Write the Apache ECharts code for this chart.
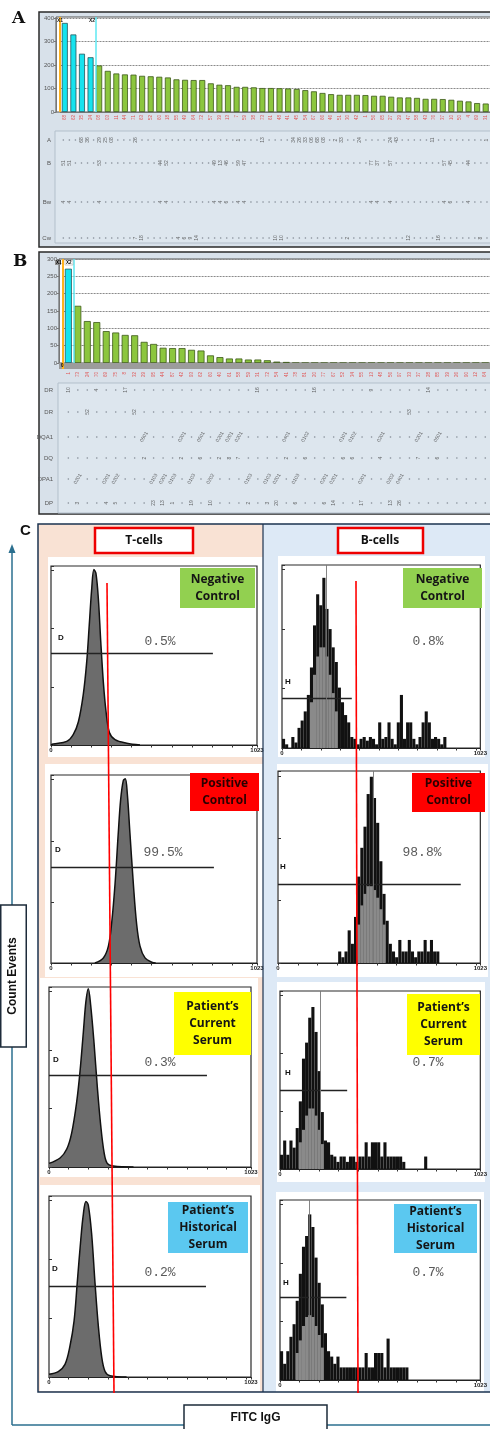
<!DOCTYPE html>
<html><head><meta charset="utf-8">
<script src="https://cdn.jsdelivr.net/npm/echarts@6/dist/echarts.min.js"></script>
<style>html,body{margin:0;padding:0;background:#fff}#c{width:490px;height:1429px}</style>
</head><body><div id="c"></div>
<script>
// ---------------- DATA ----------------
// Panel A: antibody-specificity bar chart (MFI-like values, sorted)
const aCategories = ['68','62','35','24','08','03','11','44','71','63','52','60','18','55','49','64','72','57','39','13','7','59','38','73','61','48','41','45','54','67','66','46','51','30','42','1','56','65','27','29','47','58','43','76','37','10','50','4','69','31'];
const aValues = [379,330,248,233,198,175,164,160,159,154,152,150,147,139,137,136,136,122,116,114,107,107,105,102,102,101,100,98,93,88,81,76,73,73,73,72,69,69,65,62,62,60,56,56,55,52,48,45,38,36];
const aCyanCount = 4;
const aTableRowNames = ['A','B','Bw','Cw'];
const aRowA = ['','','','68','36','','29','25','08','', '','','26','','','','','','','', '','','','','','','','','','1', '','','','13','','','','','34','26', '33','06','68','08','','2','33','','','24', '','','','','24','43','','','','', '','11','','','','','','','','', '1'];
const aRowB = ['51','51','','','','','53','','','', '','','','','','','44','52','','', '','','','','','49','13','46','','59', '47','','','','','','','','','', '','','','','','','','','','', '','77','37','','57','','','','','', '','','','57','45','','','44','','', ''];
const aRowBw = ['4','4','','','','','4','','','', '','','','','','','4','4','','', '','','','','','4','4','6','','4', '4','','','','','','','','','', '','','','','','','','','','', '','4','4','','4','','','','','', '','','','4','6','','','4','','', ''];
const aRowCw = ['','','','','','','','','','', '','','7','18','','','','','','4', '6','9','14','','','','','','','', '','','','','','10','10','','','', '','','','','','','','2','','', '','','','','','','','12','','', '','','16','','','','','','','8', ''];

// Panel B: class II specificities
const bCategories = ['1','73','24','70','69','75','8','32','29','95','44','87','42','93','62','60','40','61','58','59','31','72','54','41','78','81','20','77','67','52','34','55','13','48','56','97','33','37','28','85','39','26','90','12','64'];
const bValues = [272,165,121,118,92,88,81,80,61,55,44,43,43,38,36,22,17,13,13,10,10,8,4,3,0,0,0,0,0,0,0,0,0,0,0,0,0,0,0,0,0,0,0,0,0];
const bCyanCount = 1;
const bTableRowNames = ['DR','DR','DQA1','DQ','DPA1','DP'];
const bRowDR1 = ['10','','','4','','','17','','','', '','','','','','','','','','', '16','','','','','','16','','','', '','','9','','','','','','14','', '','','','',''];
const bRowDR2 = ['','','52','','','','','52','','', '','','','','','','','','','', '','','','','','','','','','', '','','','','','','53','','','', '','','','',''];
const bRowDQA1 = ['','','','','','','','','0501','', '','','0201','','0501','','0201','0201','0201','', '','','','0401','','0102','','','','0101', '0102','','','0201','','','','0201','','0501', '','','','',''];
const bRowDQ = ['','','','','','','','','2','', '','','2','','6','','2','8','7','', '','','','2','','6','','','','6', '6','','','4','','','','7','','6', '','','','',''];
const bRowDPA1 = ['','0201','','','0201','0202','','','','0103', '0201','0103','','0103','','0202','','','','0103', '','0103','0201','','0103','','','0201','0201','', '','0201','','','0202','0401','','','','', '','','','',''];
const bRowDP = ['','3','','','4','5','','','','23', '13','1','','19','','10','','','','2', '','3','20','','6','','','6','14','', '','17','','','13','26','','','','', '','','','',''];

// Panel C: flow cytometry histograms (channel 0-1023, height as % of plot)
const tNeg  = [[0,0],[11,0.5],[78,2],[111,6],[136,13],[160,28],[177,46],[190,67],[202,87],[213,98],[223,96],[235,82],[247,58],[260,35],[273,19],[290,7],[318,3],[376,1],[442,0]];
const tPos  = [[218,0],[260,2.7],[285,9],[301,21],[318,42],[334,69],[346,87],[359,97],[369,98],[379,90],[392,69],[409,42],[425,21],[442,9],[467,2.7],[500,0.4],[520,0]];
const tCur  = [[0,2],[56,5],[90,10],[115,19],[140,36],[157,53],[174,75],[187,92],[199,99],[211,90],[228,69],[245,44],[262,23],[279,8],[295,2],[326,0.5],[428,0]];
const tHist = [[0,1.5],[47,3],[81,7],[106,17],[127,31],[143,52],[161,76],[174,90],[187,97],[199,95],[216,79],[233,52],[250,28],[267,11],[284,3],[309,0.7],[393,0]];
// B-cell histograms, 64 bins of 16 channels
const bNeg  = [5,2,0,6,3,11,15,20,29,44,67,84,78,93,76,65,55,47,33,25,18,14,6,5,2,5,6,4,6,5,2,14,5,6,14,5,2,14,29,5,14,14,5,2,6,14,20,14,5,6,5,2,6,0,0,0,0,0,0,0,0,0,0,0];
const bPos  = [0,0,0,0,0,0,0,0,0,0,0,0,0,0,0,0,0,0,0,6,3,6,17,10,24,45,60,71,88,97,86,73,53,36,22,10,6,3,12,6,6,12,6,3,6,6,12,6,12,6,6,0,0,0,0,0,0,0,0,0,0,0,0,0];
const bCur  = [8,16,8,16,12,23,38,62,71,85,91,77,55,32,16,15,8,7,4,7,7,4,7,7,4,7,7,15,7,15,15,15,7,15,7,7,7,7,7,4,0,0,0,0,0,0,7,0,0,0,0,0,0,0,0,0,0,0,0,0,0,0,0,0];
const bHist = [16,9,16,24,31,44,59,74,80,92,85,68,54,42,26,16,13,9,13,7,7,7,7,7,7,7,7,15,7,7,15,15,15,7,23,7,7,7,7,7,7,0,0,0,0,0,0,0,0,0,0,0,0,0,0,0,0,0,0,0,0,0,0,0];
const bNegGray  = [[9,25],[10,40],[11,50],[12,55],[13,55],[14,50],[15,40],[16,30],[17,20]];
const bPosGray  = [[25,20],[26,30],[27,36],[28,40],[29,40],[30,38],[31,34],[32,28],[33,20]];
const bCurGray  = [[6,15],[7,22],[8,30],[9,34],[10,34],[11,30],[12,22],[13,14]];
const bHistGray = [[5,15],[6,22],[7,30],[8,35],[9,36],[10,35],[11,30],[12,25],[13,18]];
const binWidth = 16;

const conditionLabels = ['Negative\nControl','Positive\nControl','Patient\u2019s\nCurrent\nSerum','Patient\u2019s\nHistorical\nSerum'];
const tPercents = ['0.5%','99.5%','0.3%','0.2%'];
const bPercents = ['0.8%','98.8%','0.7%','0.7%'];
const gateLevels = [51,51,51,50,27,41,44,46];
const gateEnds = [804,809,800,795,360,924,343,339];
const bMarkers = [228,484,207,147];

// ---------------- LAYOUT ----------------
const g = [];
function R(x,y,w,h,fill,stroke,lw,z){
  const st = {fill: fill || 'none'};
  if (stroke) { st.stroke = stroke; st.lineWidth = lw || 1; }
  g.push({type:'rect', z:z, silent:true, shape:{x:x,y:y,width:w,height:h}, style:st});
}
function T(x,y,text,font,color,align,z,extra){
  g.push(Object.assign({type:'text', z:(z==null?10:z), silent:true, x:x, y:y,
    style:Object.assign({text:text, font:font, fill:color, align:align||'left', verticalAlign:'middle'}, (extra&&extra.style)||{})},
    extra&&extra.rotation!=null?{rotation:extra.rotation}:{}));
}
function L(x1,y1,x2,y2,color,w,z){
  g.push({type:'line', z:(z==null?10:z), silent:true, shape:{x1:x1,y1:y1,x2:x2,y2:y2}, style:{stroke:color, lineWidth:w}});
}

// Panel A frame
T(12,19,'A',"bold 17px 'DejaVu Serif'",'#111','left');
R(39,12,470,235,'#d8e1ea','#2a2a2a',1.5,-20);
R(56,17,450,95,'#ffffff','#555',1,-15);
R(55,131,450,112,'#dde6ee','#b3bfcb',1,-15);
L(60,17,60,112,'#ffb21e',2,8);
L(96,17,96,112,'#5ee8f2',1.5,8);
T(57,21,'X1',"bold 5px sans-serif",'#222','left');
T(89,21,'X2',"bold 5px sans-serif",'#222','left');
const aRowY = [9,32,71,107];
aTableRowNames.forEach((n,i)=>T(51,131+aRowY[i],n,"6px 'Liberation Sans'",'#555','right'));

// Panel B frame
T(13,262,'B',"bold 17px 'DejaVu Serif'",'#111','left');
R(39,252,470,262,'#d8e1ea','#2a2a2a',1.5,-20);
R(59,259,450,104,'#ffffff','#555',1,-15);
R(59,363,450,6,'#9c9c9c',null,0,6);
R(58,383,450,130,'#dde6ee','#b3bfcb',1,-15);
L(63,259,63,369,'#ffb21e',2,8);
L(74,259,74,363,'#5ee8f2',1.5,8);
R(55,260,6,5,'#8d8d8d',null,0,9); R(65,260,8,5,'#ffffff','#999',0.5,9);
T(56,262.5,'X1',"bold 4.5px sans-serif",'#000','left',10);
T(66,262.5,'X2',"bold 4.5px sans-serif",'#000','left',10);
T(61,366,'0',"bold 4.5px sans-serif",'#000','left',10);
const bRowY = [7,29,54,75,96,120];
bTableRowNames.forEach((n,i)=>T(53,383+bRowY[i],n,"6px 'Liberation Sans'",'#555','right'));

// Panel C frame
T(20,531,'C',"bold 15px 'Liberation Sans'",'#111','left');
R(38,524,225,868,'#f9e2d4',null,0,-20);
R(263,524,245,868,'#dde9f6',null,0,-20);
R(38,524,470,868,'none','#1b3350',1.5,5);
L(263,524,263,1392,'#1b3350',1.2,5);
R(95,528,98,25,'#ffffff','#ee0000',2.5,6);
T(144,541,'T-cells',"bold 12px 'Open Sans'",'#111','center',7);
R(338,528,85,25,'#ffffff','#ee0000',2.5,6);
T(380,541,'B-cells',"bold 12px 'Open Sans'",'#111','center',7);
// axis arrows
L(12,1425,12,552,'#2b6f8f',1.5,1);
g.push({type:'polygon', z:1, silent:true, shape:{points:[[12,544],[8.5,553],[15.5,553]]}, style:{fill:'#2b6f8f'}});
L(12,1425,500,1425,'#2b6f8f',1.5,1);
R(0.75,905,25.5,142,'#ffffff','#1d2b3a',1.5,6);
T(13,976,'Count Events',"bold 12px 'Liberation Sans'",'#111','center',7,{rotation:Math.PI/2});
R(184,1405,143,30,'#ffffff','#1d2b3a',1.5,6);
T(255.5,1418,'FITC IgG',"bold 12px 'Liberation Sans'",'#111','center',7);

const histLayout = [
  {bg:[48,557,215,200],  grid:[51,566,206,179],  box:[180,568,75,40,'#92d050'],  letter:[58,638],  pct:[160,642]},
  {bg:[45,764,218,213],  grid:[51,775,206,188],  box:[190,773,69,38,'#ff0000'],  letter:[55,850],  pct:[163,853]},
  {bg:[40,978,218,199],  grid:[49,987,202,180],  box:[174,992,77,63,'#ffff00'],  letter:[53,1060], pct:[160,1063]},
  {bg:[40,1185,220,206], grid:[49,1196,202,181], box:[168,1202,80,51,'#5bc8f0'], letter:[52,1269], pct:[160,1273]},
  {bg:[278,556,207,201], grid:[282,565,202,183], box:[403,568,79,40,'#92d050'],  letter:[285,682], pct:[428,642]},
  {bg:[277,764,211,213], grid:[278,771,207,192], box:[412,773,73,39,'#ff0000'],  letter:[280,867], pct:[422,853]},
  {bg:[277,982,208,200], grid:[280,991,203,178], box:[407,994,73,61,'#ffff00'],  letter:[285,1073],pct:[428,1063]},
  {bg:[276,1192,208,200],grid:[280,1200,202,180],box:[394,1204,83,49,'#5bc8f0'], letter:[283,1283],pct:[428,1273]}
];
const percents = tPercents.concat(bPercents);
histLayout.forEach((h,k)=>{
  R(h.bg[0],h.bg[1],h.bg[2],h.bg[3],'#ffffff',null,0,-10);
  const b = h.box;
  R(b[0],b[1],b[2],b[3],b[4],null,0,12);
  g.push({type:'text', z:13, silent:true, x:b[0]+b[2]/2, y:b[1]+b[3]/2,
    style:{text:conditionLabels[k%4], font:"bold 12px 'Open Sans'", fill:(k%4===1?'#2a0000':'#151515'), align:'center', verticalAlign:'middle', lineHeight:17}});
  T(h.letter[0],h.letter[1],k<4?'D':'H',"bold 8px 'Liberation Sans'",'#111','left',12);
  T(h.pct[0],h.pct[1],percents[k],"13px 'Liberation Mono'",'#5a5a5a','center',12);
});
// red reference lines
L(107,583,114,1393,'#ff0000',1.6,30);
L(356,581,358,1393,'#ff0000',1.6,30);

// ---------------- OPTION ----------------
const grids = [
  {left:60.5, top:18, width:445, height:94},
  {left:60.3, top:131, width:431, height:112},
  {left:63.6, top:259, width:481.5, height:104},
  {left:63.6, top:383, width:481.5, height:130}
];
histLayout.forEach(h=>grids.push({left:h.grid[0], top:h.grid[1], width:h.grid[2], height:h.grid[3], show:true, borderColor:'#2a2a2a', borderWidth:1.2, backgroundColor:'transparent'}));

const xAxes = [
  {gridIndex:0, type:'category', data:aCategories, axisLine:{lineStyle:{color:'#777'}}, axisTick:{alignWithLabel:true, length:2, lineStyle:{color:'#aaa'}},
   axisLabel:{rotate:90, fontSize:4.5, color:'#e05555', margin:3, interval:0}},
  {gridIndex:1, type:'category', data:aRowA.map((_,i)=>String(i)), show:false},
  {gridIndex:2, type:'category', data:bCategories, axisLine:{show:false}, axisTick:{show:false},
   axisLabel:{rotate:90, fontSize:4.5, color:'#e05555', margin:9, interval:0}},
  {gridIndex:3, type:'category', data:bCategories, show:false}
];
const yAxes = [
  {gridIndex:0, type:'value', min:0, max:400, interval:100, offset:4.5, axisLine:{show:true, lineStyle:{color:'#777'}}, axisTick:{show:true, length:2},
   axisLabel:{fontSize:6, color:'#555', margin:2}, splitLine:{lineStyle:{type:[2,1], color:'#8a8a8a'}}},
  {gridIndex:1, type:'value', min:0, max:112, inverse:true, show:false},
  {gridIndex:2, type:'value', min:0, max:300, interval:50, offset:4.6, axisLine:{show:true, lineStyle:{color:'#777'}}, axisTick:{show:true, length:2},
   axisLabel:{fontSize:6, color:'#555', margin:2}, splitLine:{lineStyle:{type:[2,1], color:'#8a8a8a'}}},
  {gridIndex:3, type:'value', min:0, max:130, inverse:true, show:false}
];
for (let k=0;k<8;k++){
  xAxes.push({gridIndex:4+k, type:'value', min:0, max:1023, interval:100,
    axisLine:{lineStyle:{color:'#222', width:1.2}}, axisTick:{length:2.5, lineStyle:{color:'#333'}},
    axisLabel:{fontSize:6, fontWeight:'bold', color:'#222', margin:2, showMaxLabel:true, showMinLabel:true,
      formatter:v=>v===0?'0':(v>=1023?'1023':'')}, splitLine:{show:false}});
  yAxes.push({gridIndex:4+k, type:'value', min:0, max:100, interval:32.5, axisLine:{show:false},
    axisTick:{show:true, inside:true, length:3, lineStyle:{color:'#333'}}, axisLabel:{show:false}, splitLine:{show:false}});
}

function barItems(vals, nCyan){
  return vals.map((v,i)=>({value:v, itemStyle:{color:i<nCyan?'#16e3ee':'#8cc63e', borderColor:i<nCyan?'#24555a':'#3e591a'}}));
}
function tableSeries(rows, idx, ys, rots){
  const dots=[], nums=[];
  rows.forEach((cells,r)=>cells.forEach((t,c)=>{
    if (t==='') dots.push([c, ys[r]]);
    else nums.push({name:t, value:[c, ys[r]], label:{rotate:rots[r]}});
  }));
  return [
    {type:'scatter', xAxisIndex:idx, yAxisIndex:idx, data:dots, symbolSize:1.6, itemStyle:{color:'#6d7480'}, silent:true},
    {type:'scatter', xAxisIndex:idx, yAxisIndex:idx, data:nums, symbolSize:1, itemStyle:{color:'rgba(0,0,0,0)'}, silent:true,
     label:{show:true, position:'inside', formatter:p=>p.name, fontSize:5, color:'#444'}}
  ];
}

const series = [
  {type:'bar', xAxisIndex:0, yAxisIndex:0, barWidth:6, data:barItems(aValues,aCyanCount), itemStyle:{borderWidth:0.8}, silent:true},
  ...tableSeries([aRowA,aRowB,aRowBw,aRowCw],1,aRowY,[90,90,90,90]),
  {type:'bar', xAxisIndex:2, yAxisIndex:2, barWidth:7, data:barItems(bValues,bCyanCount), itemStyle:{borderWidth:0.8}, silent:true},
  ...tableSeries([bRowDR1,bRowDR2,bRowDQA1,bRowDQ,bRowDPA1,bRowDP],3,bRowY,[90,90,60,90,60,90])
];

function gateMark(k){
  const data = [[{coord:[0,gateLevels[k]]},{coord:[gateEnds[k],gateLevels[k]]}]];
  if (k>=4) data.push({xAxis:bMarkers[k-4], lineStyle:{color:'#777', width:0.9}});
  return {silent:true, symbol:['none','none'], label:{show:false}, animation:false,
          lineStyle:{color:'#222', width:1.3, type:'solid'}, data:data};
}
[tNeg,tPos,tCur,tHist].forEach((d,k)=>{
  series.push({type:'line', xAxisIndex:4+k, yAxisIndex:4+k, data:d, smooth:0.35, symbol:'none',
    lineStyle:{color:'#111', width:1.5}, areaStyle:{color:'#6c6c6c', opacity:1}, markLine:gateMark(k), silent:true});
});
[[bNeg,bNegGray],[bPos,bPosGray],[bCur,bCurGray],[bHist,bHistGray]].forEach((pair,j)=>{
  const k = 4+j;          // histogram number (0-7)
  const ax = 4+k;         // axis index
  series.push({type:'bar', xAxisIndex:ax, yAxisIndex:ax, barWidth:3.1, barGap:'-100%',
    data:pair[0].map((v,i)=>[i*binWidth+binWidth/2, v]), itemStyle:{color:'#111'}, markLine:gateMark(k), silent:true});
  series.push({type:'bar', xAxisIndex:ax, yAxisIndex:ax, barWidth:3.1, barGap:'-100%',
    data:pair[1].map(p=>[p[0]*binWidth+binWidth/2, p[1]]), itemStyle:{color:'#8a8a8a'}, silent:true});
});

const chart = echarts.init(document.getElementById('c'), null, {renderer:'canvas'});
chart.setOption({animation:false, grid:grids, xAxis:xAxes, yAxis:yAxes, series:series, graphic:{elements:g}});
</script></body></html>
